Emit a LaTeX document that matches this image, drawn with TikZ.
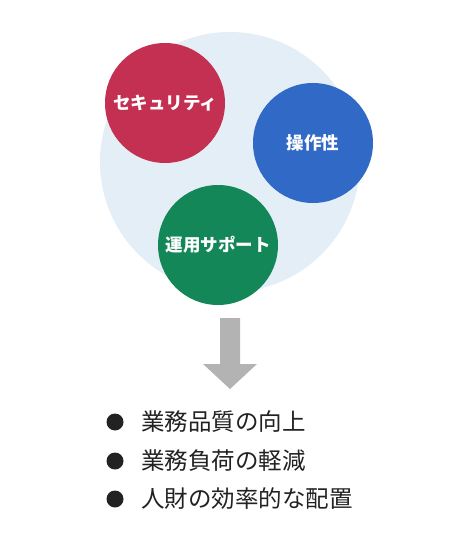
\documentclass[tikz,border=0pt]{standalone}
\usepackage{fontspec}
\newfontfamily\cjk{Noto Sans CJK JP}
\definecolor{bgcirc}{RGB}{228,238,246}
\definecolor{cred}{RGB}{196,48,82}
\definecolor{cblue}{RGB}{48,105,198}
\definecolor{cgreen}{RGB}{19,135,88}
\definecolor{arrowgray}{RGB}{179,179,179}
\definecolor{txt}{RGB}{34,34,34}
\tikzset{
  topic/.style={circle, minimum size=120pt, inner sep=0pt, text=white,
    font=\cjk\bfseries\fontsize{17.5pt}{20pt}\selectfont},
  bulletdot/.style={circle, fill=txt, minimum size=17pt, inner sep=0pt},
  item/.style={anchor=west, inner sep=0pt, text=txt,
    font=\cjk\fontsize{23.5pt}{28pt}\selectfont}
}
\begin{document}
\begin{tikzpicture}[x=1pt,y=-1pt]
\useasboundingbox (0,0) rectangle (460,540);
\node[circle, fill=bgcirc, minimum size=260pt, inner sep=0pt] (bg) at (230,162) {};
\node[topic, fill=cred] (sec) at (165,103) {セキュリティ};
\node[topic, fill=cblue] (ops) at (313,143) {操作性};
\node[topic, fill=cgreen] (sup) at (218,245) {運用サポート};
\fill[arrowgray] (220,318) -- (240,318) -- (240,364) -- (257,364) -- (230,389)
  -- (203,364) -- (220,364) -- cycle;
\node[bulletdot] (b1) at (115,422) {};
\node[bulletdot] (b2) at (115,461) {};
\node[bulletdot] (b3) at (115,499) {};
\node[item] (t1) at (141,422) {業務品質の向上};
\node[item] (t2) at (141,461) {業務負荷の軽減};
\node[item] (t3) at (141,499) {人財の効率的な配置};
\end{tikzpicture}
\end{document}
